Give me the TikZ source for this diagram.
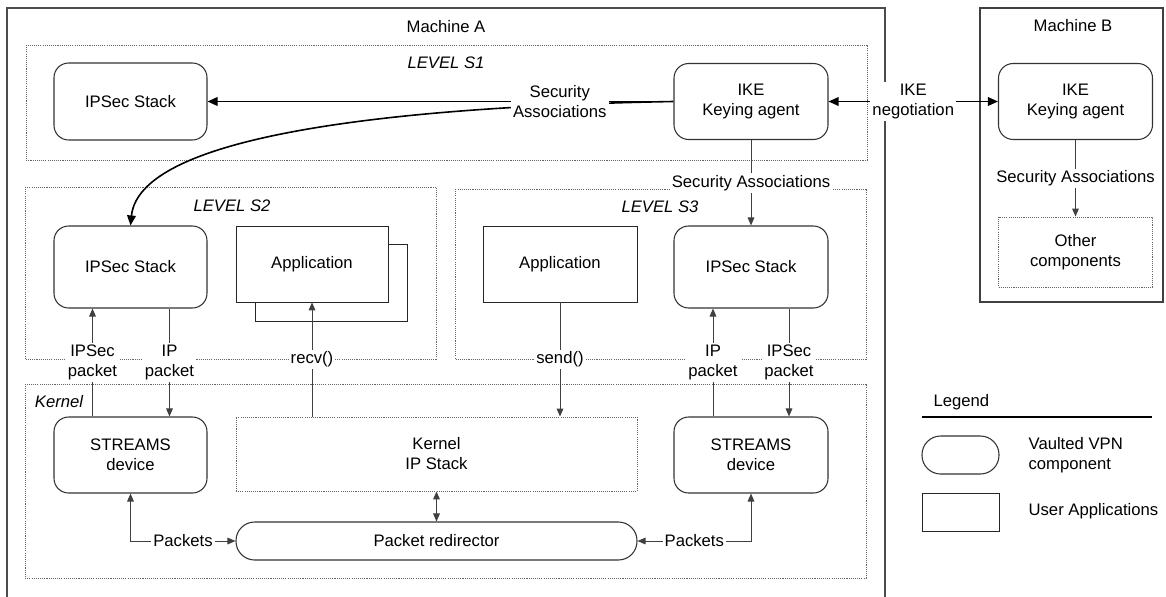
\documentclass[tikz,border=0pt]{standalone}
\usepackage{fontspec}
\setmainfont{Liberation Sans}
\usetikzlibrary{arrows.meta,calc}
\begin{document}
\begin{tikzpicture}[x=0.75pt,y=-0.75pt,
  font=\fontsize{12.5}{15}\selectfont,
  sz/.style n args={2}{minimum width=#1*0.75pt,minimum height=#2*0.75pt,inner sep=0pt},
  comp/.style={draw=black!80,line width=0.8pt,rounded corners=11pt,align=center,fill=white},
  appbox/.style={draw=black!85,line width=0.6pt,align=center,fill=white},
  dotbox/.style={draw=black!60,line width=0.7pt,dash pattern=on 0.8pt off 0.8pt},
  lbl/.style={fill=white,inner sep=1.5pt,align=center,text=black},
  arr/.style={draw=black!75,line width=0.75pt,-{Triangle[length=6pt,width=5pt]}},
  darr/.style={draw=black!75,line width=0.75pt,{Triangle[length=6pt,width=5pt]}-{Triangle[length=6pt,width=5pt]}},
  bigarr/.style={draw=black,line width=1.2pt,-{Triangle[length=7.5pt,width=6.5pt]}},
  negarr/.style={draw=black,line width=1pt,{Triangle[length=7.5pt,width=6.5pt]}-{Triangle[length=7.5pt,width=6.5pt]}},
  ttl/.style={inner sep=1pt}
]
\clip (0,0) rectangle (1166,596);
\fill[white] (0,0) rectangle (1166,596);

% containers
\draw[draw=black!70,line width=1pt] (7,8) rectangle (885,640);
\draw[draw=black!75,line width=0.9pt] (980,8) rectangle (1163,302);
\draw[dotbox] (26,45) rectangle (867,160);
\draw[dotbox] (25,187) rectangle (436,359);
\draw[dotbox] (455,189) rectangle (866,359);
\draw[dotbox] (25,384) rectangle (866,578);

% titles
\node[ttl] (tA) at (446,27) {Machine A};
\node[ttl] (tB) at (1073,26) {Machine B};
\node[ttl,font=\fontsize{12.5}{15}\selectfont\itshape] (tS1) at (446,63) {LEVEL S1};
\node[ttl,font=\fontsize{12.5}{15}\selectfont\itshape] (tS2) at (232,206) {LEVEL S2};
\node[ttl,font=\fontsize{12.5}{15}\selectfont\itshape] (tS3) at (660,207) {LEVEL S3};
\node[ttl,font=\fontsize{12.5}{15}\selectfont\itshape] (tK) at (59,402) {Kernel};

% components
\node[comp,sz={153}{77}] (ipsA) at (130.5,101.5) {IPSec Stack};
\node[comp,sz={154}{76}] (ikeA) at (751,101.5) {IKE\\Keying agent};
\node[comp,sz={154}{76}] (ikeB) at (1075.5,101.5) {IKE\\Keying agent};
\node[dotbox,sz={154}{70},align=center] (othB) at (1075.5,252) {Other\\components};

\node[comp,sz={153}{82}] (ips2) at (130.5,267) {IPSec Stack};
\node[appbox,sz={152}{77}] (app2s) at (331,282.5) {};
\node[appbox,sz={152}{76}] (app2) at (312,264) {Application};
\node[appbox,sz={154}{76}] (app3) at (560,264) {Application};
\node[comp,sz={154}{82}] (ips3) at (751,267) {IPSec Stack};

\node[comp,sz={153}{76}] (st2) at (130.5,455) {STREAMS\\device};
\node[dotbox,sz={401}{74},align=center] (ipk) at (436.5,454) {Kernel\\IP Stack};
\node[comp,sz={154}{76}] (st3) at (751,455) {STREAMS\\device};
\node[comp,sz={401}{38},rounded corners=14pt] (redir) at (436.5,541) {Packet redirector};

% legend
\node[ttl,anchor=west] (lgt) at (932,402) {Legend};
\coordinate (lgl) at (922,417);
\coordinate (lgr) at (1152,417);
\draw[black,line width=1pt] (lgl) -- (lgr);
\node[comp,sz={77}{38},rounded corners=14pt] (lgc) at (960.5,455) {};
\node[appbox,sz={77}{38}] (lga) at (960.5,512) {};
\node[ttl,anchor=west,align=left] (lgct) at (1027,455) {Vaulted VPN\\component};
\node[ttl,anchor=west] (lgat) at (1027,511) {User Applications};

% connectors
\draw[bigarr] (ikeA.west) .. controls (426,106) and (140,130) .. (ips2.north);
\draw[bigarr] (ikeA.west) -- node[lbl,pos=0.244]{Security\\Associations} (ipsA.east);
\draw[negarr] (ikeA.east) -- node[lbl]{IKE\\negotiation} (ikeB.west);
\draw[arr] (ikeA.south) -- node[lbl]{Security Associations} (ips3.north);
\draw[arr] (ikeB.south) -- node[lbl]{Security Associations} (othB.north);

\draw[arr] ($(st2.north)+(-38,0)$) -- node[lbl]{IPSec\\packet} ($(ips2.south)+(-38,0)$);
\draw[arr] ($(ips2.south)+(39,0)$) -- node[lbl]{IP\\packet} ($(st2.north)+(39,0)$);
\draw[arr] (app2.south |- ipk.north) -- node[lbl]{recv()} (app2.south);
\draw[arr] (app3.south) -- node[lbl]{send()} (app3.south |- ipk.north);
\draw[arr] ($(st3.north)+(-38,0)$) -- node[lbl]{IP\\packet} ($(ips3.south)+(-38,0)$);
\draw[arr] ($(ips3.south)+(38,0)$) -- node[lbl]{IPSec\\packet} ($(st3.north)+(38,0)$);

\draw[darr] (ipk.south) -- (redir.north);
\draw[darr] (st2.south) |- node[lbl,pos=0.75]{Packets} (redir.west);
\draw[darr] (st3.south) |- node[lbl,pos=0.75]{Packets} (redir.east);
\end{tikzpicture}
\end{document}
